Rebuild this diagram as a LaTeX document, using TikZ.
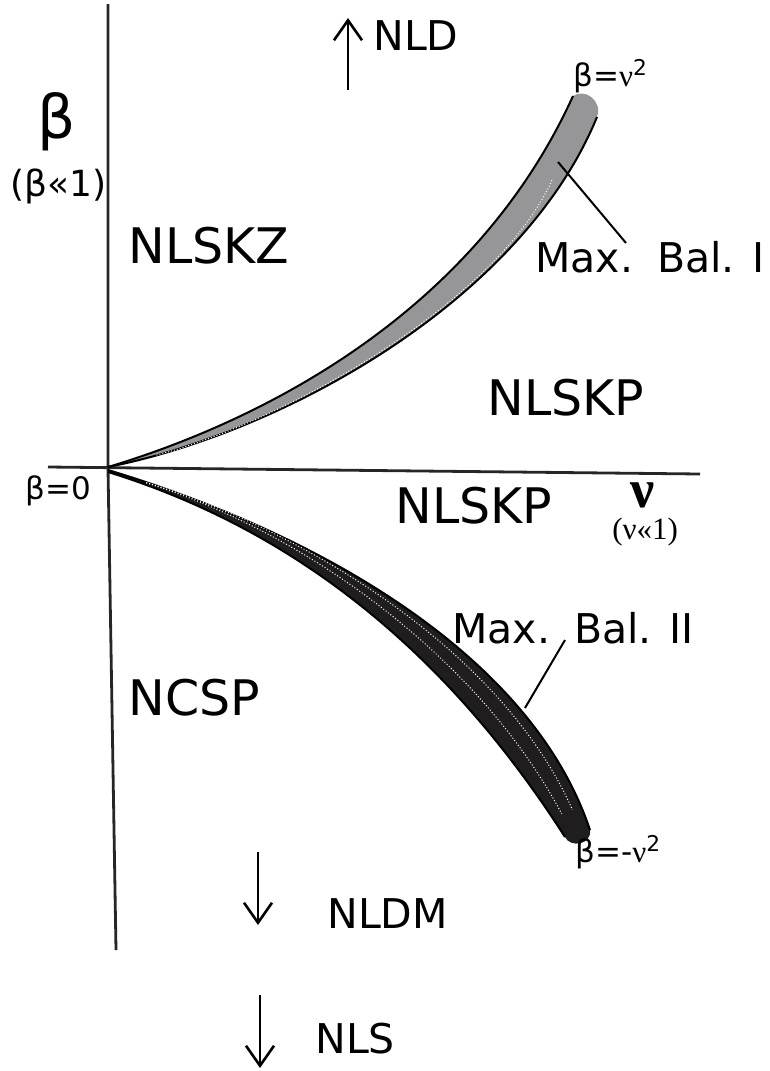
\documentclass[tikz,border=0pt]{standalone}
\usepackage{fontspec}
\setmainfont{DejaVu Sans}
\newfontfamily\serifgreek{Liberation Serif}
\usepackage{tikz}
\usetikzlibrary{arrows.meta}
\definecolor{bandgray}{RGB}{150,150,152}
\definecolor{bandblack}{RGB}{32,29,30}

\begin{document}
\begin{tikzpicture}[x=0.5pt, y=-0.5pt,
  axisline/.style={line width=1.4pt, draw=black!85},
  edgeline/.style={line width=1pt},
  streak/.style={white, densely dotted, line width=0.5pt},
  leader/.style={line width=1pt},
  flowarrow/.style={line width=1.3pt, -{Straight Barb[length=10pt,width=14pt]}},
  regionlbl/.style={anchor=base west, inner sep=0pt, font=\fontsize{24.5}{28}\selectfont},
  sidelbl/.style={anchor=base west, inner sep=0pt, font=\fontsize{20.5}{24}\selectfont},
  curvelbl/.style={anchor=base west, inner sep=0pt, font=\fontsize{15.5}{18}\selectfont}]
  \useasboundingbox (0,0) rectangle (770,1071);

  % Axes
  \coordinate (ytop) at (108,4);
  \coordinate (orig) at (108,468);
  \coordinate (ybot) at (116,950);
  \coordinate (xleft) at (48,467);
  \coordinate (xright) at (700,474);
  \draw[axisline] (ytop) -- (orig) -- (ybot);
  \draw[axisline] (xleft) -- (xright);

  % Band I (beta = nu^2)
  \fill[bandgray] (108,467) .. controls (258,422) and (473,316) .. (573,96)
    .. controls (584,88) and (603,100) .. (597,117)
    .. controls (522,300) and (285,432) .. (108,467) -- cycle;
  \draw[edgeline] (108,467) .. controls (258,422) and (473,316) .. (573,96);
  \draw[edgeline] (108,467) .. controls (285,432) and (522,300) .. (597,117);
  \draw[streak, shorten <=25pt, shorten >=40pt] (108,467) .. controls (270,427) and (495,308) .. (585,106);

  % Band II (beta = -nu^2)
  \fill[bandblack] (108,470) .. controls (308,530) and (530,650) .. (590,830)
    .. controls (592,845) and (570,848) .. (565,837)
    .. controls (455,665) and (308,534) .. (108,472) -- cycle;
  \draw[edgeline] (108,470) .. controls (308,530) and (530,650) .. (590,830);
  \draw[edgeline] (108,472) .. controls (308,534) and (455,665) .. (565,837);
  \draw[streak, shorten <=20pt, shorten >=12pt] (108,471) .. controls (308,531) and (505,655) .. (582,832);
  \draw[streak, shorten <=20pt, shorten >=12pt] (108,471) .. controls (308,533) and (480,660) .. (573,835);

  % Axis labels
  \node[anchor=base west, inner sep=0pt, font=\fontsize{30}{34}\selectfont] (betalbl) at (37,138) {β};
  \node[anchor=base west, inner sep=0pt, font=\fontsize{18}{21}\selectfont] (betasmall) at (10,196) {(β«1)};
  \node[curvelbl] (betazero) at (25,499) {β=0};
  \node[anchor=base west, inner sep=0pt, font=\serifgreek\bfseries\fontsize{27}{30}\selectfont] (nulbl) at (630,507) {ν};
  \node[anchor=base west, inner sep=0pt, font=\serifgreek\fontsize{15.5}{18}\selectfont] (nusmall) at (612,539) {(ν«1)};
  \node[curvelbl] (curveI) at (573,86) {β={\serifgreek ν}\textsuperscript{2}};
  \node[curvelbl] (curveII) at (575,862) {β=-{\serifgreek ν}\textsuperscript{2}};

  % Regions
  \node[regionlbl] (nlskz) at (128,263) {NLSKZ};
  \node[regionlbl] (nlskpup) at (487,415) {NLSKP};
  \node[regionlbl] (nlskplow) at (395,523) {NLSKP};
  \node[regionlbl] (ncsp) at (128,715) {NCSP};

  % Balance labels and leaders
  \node[sidelbl] (maxI) at (535,272) {Max.\hspace{12pt}Bal. I};
  \node[sidelbl] (maxII) at (452,643) {Max.\hspace{12pt}Bal. II};
  \coordinate (balI) at (558,162);
  \coordinate (balIend) at (626,243);
  \coordinate (balII) at (525,708);
  \coordinate (balIIend) at (565,640);
  \draw[leader] (balI) -- (balIend);
  \draw[leader] (balII) -- (balIIend);

  % Limits
  \node[sidelbl] (nld) at (373,50) {NLD};
  \node[sidelbl] (nldm) at (327,928) {NLDM};
  \node[sidelbl] (nls) at (315,1053) {NLS};
  \coordinate (nldfoot) at (348,90);
  \coordinate (nldhead) at (348,18);
  \coordinate (nldmfoot) at (258,852);
  \coordinate (nldmhead) at (258,925);
  \coordinate (nlsfoot) at (260,995);
  \coordinate (nlshead) at (260,1068);
  \draw[flowarrow] (nldfoot) -- (nldhead);
  \draw[flowarrow] (nldmfoot) -- (nldmhead);
  \draw[flowarrow] (nlsfoot) -- (nlshead);
\end{tikzpicture}
\end{document}
